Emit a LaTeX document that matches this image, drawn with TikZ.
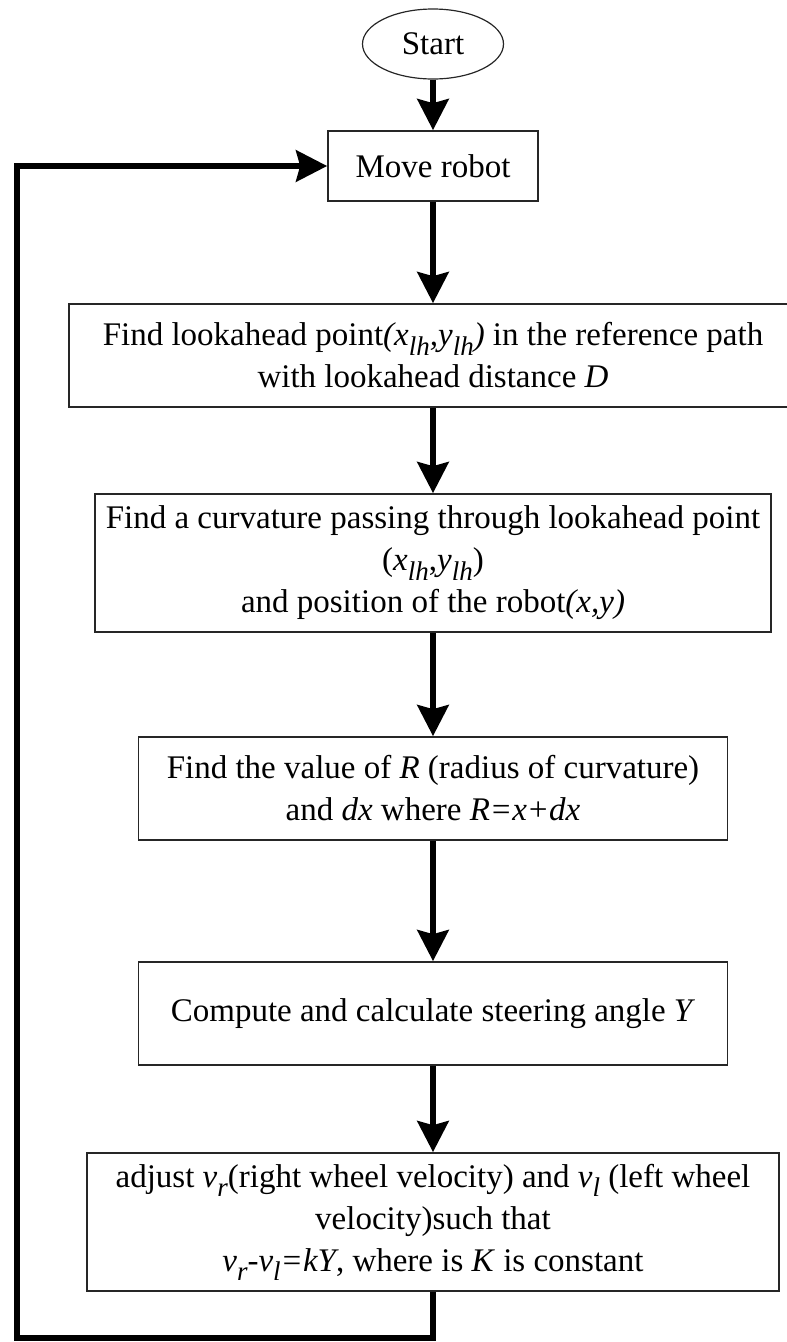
\documentclass[tikz,border=0pt]{standalone}
\usepackage{fontspec}
\setmainfont{Liberation Serif}
\usetikzlibrary{shapes.geometric,arrows.meta}
% lowered italic index, as in x_lh
\newcommand{\lowsub}[1]{\raisebox{-0.28em}{\fontsize{27}{27}\selectfont\itshape #1}}
\begin{document}
\begin{tikzpicture}[x=1pt,y=-1pt,
  every node/.style={font=\fontsize{33}{42}\selectfont, inner sep=0pt, align=center},
  stepbox/.style={draw=black!85, line width=1.6pt, fill=white},
  flow/.style={line width=6.5pt, line join=miter,
    -{Stealth[length=31pt,width=31pt,inset=4pt]}},
]
\useasboundingbox (0,0) rectangle (787,1342);

\node[ellipse, draw=black!85, line width=1.2pt, minimum width=141pt, minimum height=70pt]
  (start) at (433,44) {Start};
\node[stepbox, minimum width=210pt, minimum height=70pt] (move) at (433,166) {Move robot};
\node[stepbox, minimum width=728pt, minimum height=103pt] (b2) at (433,355.5)
  {Find lookahead point\textit{(x\lowsub{lh},y\lowsub{lh})} in the reference path\\
   with lookahead distance \textit{D}};
\node[stepbox, minimum width=676pt, minimum height=138pt] (b3) at (433,563)
  {Find a curvature passing through lookahead point\\
   (\textit{x}\lowsub{lh},\textit{y}\lowsub{lh})\\
   and position of the robot\textit{(x,y)}};
\node[stepbox, minimum width=589pt, minimum height=103pt] (b4) at (433,788.5)
  {Find the value of \textit{R} (radius of curvature)\\
   and \textit{dx} where \textit{R=x+dx}};
\node[stepbox, minimum width=589pt, minimum height=103pt] (b5) at (433,1013.5)
  {Compute and calculate steering angle \textit{Y}};
\node[stepbox, minimum width=692pt, minimum height=138pt] (b6) at (433,1222)
  {adjust \textit{v}\lowsub{r}(right wheel velocity) and \textit{v}\lowsub{l} (left wheel\\
   velocity)such that\\
   \textit{v}\lowsub{r}-\textit{v}\lowsub{l}\textit{=kY}, where is \textit{K} is constant};

\draw[flow] (start) -- (move);
\draw[flow] (move) -- (b2);
\draw[flow] (b2) -- (b3);
\draw[flow] (b3) -- (b4);
\draw[flow] (b4) -- (b5);
\draw[flow] (b5) -- (b6);

% return path back to the robot motion step
\coordinate (loopA) at (433,1338);
\coordinate (loopB) at (17,1338);
\draw[flow] (b6.south) -- (loopA) -- (loopB) |- (move.west);
\end{tikzpicture}
\end{document}
